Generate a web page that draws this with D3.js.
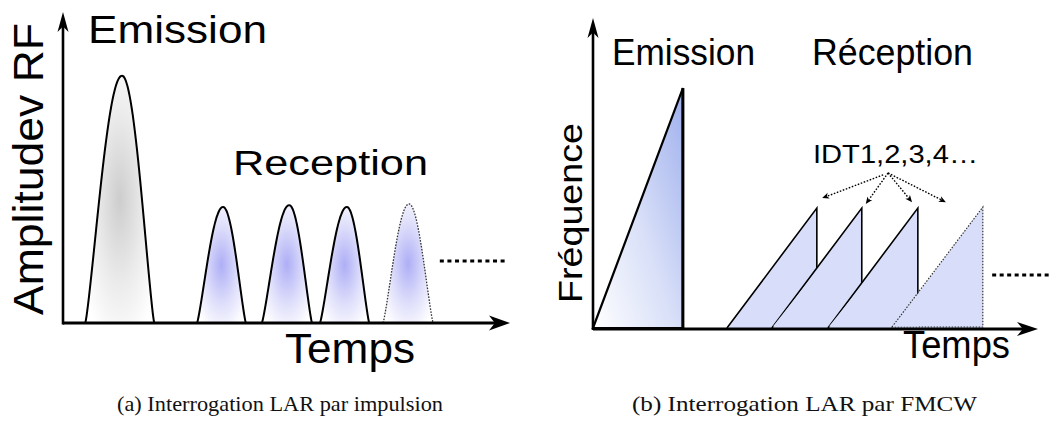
<!DOCTYPE html>
<html><head><meta charset="utf-8">
<script src="https://cdn.jsdelivr.net/npm/d3@7"></script>
<style>html,body{margin:0;padding:0;background:#fff;}svg{display:block;}</style>
</head><body>
<svg id="chart" width="1058" height="433"></svg>
<script>
// ---------- data (normalised time / amplitude units 0..100) ----------
// (a) pulse interrogation
const pulseNames = ["Emission", "IDT1", "IDT2", "IDT3", "IDT4"];
const pulseKind  = ["emission", "reception", "reception", "reception", "pending"];
const pulseStart = [5.0, 30.0, 44.5, 57.5, 71.6];
const pulsePeak  = [13.2, 35.8, 50.6, 63.5, 77.4];
const pulseEnd   = [20.4, 40.9, 55.7, 68.5, 82.8];
const pulseAmp   = [79.5, 37.3, 37.9, 37.3, 38.3];
const pulseMore  = [84.3, 99.3, 19.9];      // "......" continuation: t0, t1, level

// (b) FMCW interrogation
const chirpNames = ["Emission", "IDT1", "IDT2", "IDT3", "IDT4"];
const chirpKind  = ["emission", "reception", "reception", "reception", "pending"];
const chirpStart = [0.0, 30.1, 40.2, 52.8, 67.2];
const chirpEnd   = [20.2, 50.3, 60.4, 73.0, 87.6];
const chirpTop   = [77.4, 38.7, 38.7, 38.7, 39.0];
const chirpMore  = [89.7, 103.1, 17.1];
const idtOrigin  = [[65.2, 49.4], [66.3, 50.0], [66.3, 50.0], [66.3, 50.0]];
const idtTarget  = [[51.5, 41.9], [61.3, 40.0], [71.7, 40.6], [79.3, 40.6]];

// texts
const textsA = { y: "Amplitudev RF", x: "Temps", emis: "Emission", rec: "Reception",
                 caption: "(a) Interrogation LAR par impulsion" };
const textsB = { y: "Fréquence", x: "Temps", emis: "Emission", rec: "Réception",
                 idt: "IDT1,2,3,4…", caption: "(b) Interrogation LAR par FMCW" };

// ---------- drawing ----------
const svg = d3.select("#chart");
const defs = svg.append("defs");
const SANS = "'Liberation Sans', Arial, Helvetica, sans-serif";
const SERIF = "'Liberation Serif', 'DejaVu Serif', serif";

function radial(id, c) {
  const g = defs.append("radialGradient").attr("id", id)
    .attr("cx", 0.5).attr("cy", 0.5).attr("r", 0.62).attr("fx", 0.5).attr("fy", 0.5);
  g.append("stop").attr("offset", 0).attr("stop-color", c);
  g.append("stop").attr("offset", 0.55).attr("stop-color", d3.interpolateRgb(c, "#fff")(0.6));
  g.append("stop").attr("offset", 1).attr("stop-color", "#fff");
}
radial("gEmis", "#cdcdcd");
radial("gRec", "#aeaef6");
const lg = defs.append("linearGradient").attr("id", "gChirp")
  .attr("x1", 0).attr("y1", 1).attr("x2", 1).attr("y2", 0.1);
lg.append("stop").attr("offset", 0).attr("stop-color", "#ffffff");
lg.append("stop").attr("offset", 0.5).attr("stop-color", "#d9e0f8");
lg.append("stop").attr("offset", 1).attr("stop-color", "#a4b4ee");

function arrowHead(g, x, y, angle, len, half) {
  g.append("path")
    .attr("d", `M0,0 L${-len},${-half} L${-len * 0.72},0 L${-len},${half} Z`)
    .attr("transform", `translate(${x},${y}) rotate(${angle})`)
    .attr("fill", "#000");
}
function label(g, txt, x, y, size, len, rot) {
  const t = g.append("text").text(txt)
    .attr("font-family", SANS).attr("font-size", size).attr("fill", "#000")
    .attr("textLength", len).attr("lengthAdjust", "spacingAndGlyphs");
  if (rot) t.attr("transform", `translate(${x},${y}) rotate(-90)`);
  else t.attr("x", x).attr("y", y);
  return t;
}

// ===== panel (a) =====
const xL = d3.scaleLinear().domain([0, 100]).range([63, 510]);
const yL = d3.scaleLinear().domain([0, 100]).range([323, 12]);
const gA = svg.append("g");

const pulseIdx = d3.range(pulseNames.length);
const shape = s => Math.pow(Math.sin(Math.PI * s / 2), 1.2);
function pulsePts(i) {
  const pts = [];
  const n = 30;
  for (let k = 0; k <= n; k++) {
    const s = k / n;
    pts.push([pulseStart[i] + (pulsePeak[i] - pulseStart[i]) * s, pulseAmp[i] * shape(s)]);
  }
  for (let k = n - 1; k >= 0; k--) {
    const s = k / n;
    pts.push([pulseEnd[i] - (pulseEnd[i] - pulsePeak[i]) * s, pulseAmp[i] * shape(s)]);
  }
  return pts;
}
const pulseLine = d3.line().x(d => xL(d[0])).y(d => yL(d[1])).curve(d3.curveMonotoneX);
gA.selectAll("path.pulse").data(pulseIdx).join("path").attr("class", "pulse")
  .attr("d", i => pulseLine(pulsePts(i)))
  .attr("fill", i => pulseKind[i] === "emission" ? "url(#gEmis)" : "url(#gRec)")
  .attr("stroke", i => pulseKind[i] === "pending" ? "#333" : "#000")
  .attr("stroke-width", i => pulseKind[i] === "pending" ? 1.3 : 2)
  .attr("stroke-dasharray", i => pulseKind[i] === "pending" ? "1.6,1.4" : null)
  .attr("stroke-linejoin", "round");

gA.append("line")
  .attr("x1", xL(pulseMore[0])).attr("x2", xL(pulseMore[1]))
  .attr("y1", yL(pulseMore[2])).attr("y2", yL(pulseMore[2]))
  .attr("stroke", "#000").attr("stroke-width", 3).attr("stroke-dasharray", "4,3.6");

// axes (a)
gA.append("line").attr("x1", xL(0)).attr("x2", xL(100) - 12).attr("y1", yL(0)).attr("y2", yL(0))
  .attr("stroke", "#000").attr("stroke-width", 3);
gA.append("line").attr("x1", xL(0)).attr("x2", xL(0)).attr("y1", yL(0) + 1.5).attr("y2", yL(100) + 12)
  .attr("stroke", "#000").attr("stroke-width", 2.6);
arrowHead(gA, xL(100), yL(0), 0, 21, 7.5);
arrowHead(gA, xL(0), yL(100), -90, 20, 5.5);

label(gA, textsA.emis, 88, 43, 39, 179);
label(gA, textsA.rec, 233, 175, 35, 195);
label(gA, textsA.x, 285, 363, 42, 130);
label(gA, textsA.y, 43, 315, 43, 292, true);

// ===== panel (b) =====
const xR = d3.scaleLinear().domain([0, 100]).range([593, 1038]);
const yR = d3.scaleLinear().domain([0, 100]).range([328, 18]);
const gB = svg.append("g");

// emission chirp
gB.append("path")
  .attr("d", `M${xR(chirpStart[0])},${yR(0)} L${xR(chirpEnd[0])},${yR(chirpTop[0])} L${xR(chirpEnd[0])},${yR(0)} Z`)
  .attr("fill", "url(#gChirp)").attr("stroke", "#000").attr("stroke-width", 2.2)
  .attr("stroke-linejoin", "miter");
gB.append("line").attr("x1", xR(chirpEnd[0])).attr("x2", xR(chirpEnd[0]))
  .attr("y1", yR(chirpTop[0])).attr("y2", yR(0)).attr("stroke", "#000").attr("stroke-width", 3);

// reception chirps
const recIdx = d3.range(1, chirpNames.length);
recIdx.forEach(i => {
  const pending = chirpKind[i] === "pending";
  const x0 = xR(chirpStart[i]), x1 = xR(chirpEnd[i]), y0 = yR(0), y1 = yR(chirpTop[i]);
  gB.append("path").attr("d", `M${x0},${y0} L${x1},${y1} L${x1},${y0} Z`)
    .attr("fill", "#d8defa").attr("stroke", "none");
  gB.append("path").attr("d", pending ? `M${x0},${y0 - 1} L${x1},${y1} L${x1},${y0 - 1} Z` : `M${x0},${y0} L${x1},${y1} L${x1},${y0}`)
    .attr("fill", "none")
    .attr("stroke", pending ? "#333" : "#000")
    .attr("stroke-width", pending ? 1.2 : 1.6)
    .attr("stroke-dasharray", pending ? "1.5,1.5" : null);
});
// repaint overlapping fills so verticals get hidden under the next ramp
recIdx.slice(1).forEach(i => {
  const x0 = xR(chirpStart[i]), x1 = xR(chirpEnd[i]), y0 = yR(0), y1 = yR(chirpTop[i]);
  const prevX = xR(chirpEnd[i - 1]);
  const t = (prevX - x0) / (x1 - x0);
  const yc = y0 + (y1 - y0) * t;
  gB.append("path").attr("d", `M${x0 + 1},${y0 - 1.5} L${prevX + 1},${yc + 1.5} L${prevX + 1},${y0 - 1.5} Z`)
    .attr("fill", "#d8defa");
});

gB.append("line")
  .attr("x1", xR(chirpMore[0])).attr("x2", xR(chirpMore[1]))
  .attr("y1", yR(chirpMore[2])).attr("y2", yR(chirpMore[2]))
  .attr("stroke", "#000").attr("stroke-width", 3).attr("stroke-dasharray", "4,3.5");

// IDT arrows
idtOrigin.forEach((o, k) => {
  const t = idtTarget[k];
  const xa = xR(o[0]), ya = yR(o[1]), xb = xR(t[0]), yb = yR(t[1]);
  const ang = Math.atan2(yb - ya, xb - xa) * 180 / Math.PI;
  const L = Math.hypot(xb - xa, yb - ya);
  const ux = (xb - xa) / L, uy = (yb - ya) / L;
  gB.append("line").attr("x1", xa).attr("y1", ya).attr("x2", xb - ux * 5).attr("y2", yb - uy * 5)
    .attr("stroke", "#000").attr("stroke-width", 1.4).attr("stroke-dasharray", "1.6,1.6");
  arrowHead(gB, xb, yb, ang, 7, 3);
});

// axes (b)
gB.append("line").attr("x1", xR(0)).attr("x2", xR(100) - 12).attr("y1", yR(0) + 1).attr("y2", yR(0) + 1)
  .attr("stroke", "#000").attr("stroke-width", 3);
gB.append("line").attr("x1", xR(0)).attr("x2", xR(0)).attr("y1", yR(0) + 2).attr("y2", yR(100) + 12)
  .attr("stroke", "#000").attr("stroke-width", 2.6);
arrowHead(gB, xR(100), yR(0) + 1, 0, 21, 7);
arrowHead(gB, xR(0), yR(100), -90, 20, 5.5);

label(gB, textsB.emis, 612, 65, 36, 143);
label(gB, textsB.rec, 812, 65, 36, 161);
label(gB, textsB.idt, 813, 163, 25, 165);
label(gB, textsB.y, 582, 303, 34, 180, true);
label(gB, textsB.x, 903, 358, 38, 107);

// captions
svg.append("text").text(textsA.caption).attr("x", 117).attr("y", 411)
  .attr("font-family", SERIF).attr("font-size", 21).attr("fill", "#111")
  .attr("textLength", 326).attr("lengthAdjust", "spacingAndGlyphs");
svg.append("text").text(textsB.caption).attr("x", 632).attr("y", 411)
  .attr("font-family", SERIF).attr("font-size", 21).attr("fill", "#111")
  .attr("textLength", 345).attr("lengthAdjust", "spacingAndGlyphs");
</script>
</body></html>
